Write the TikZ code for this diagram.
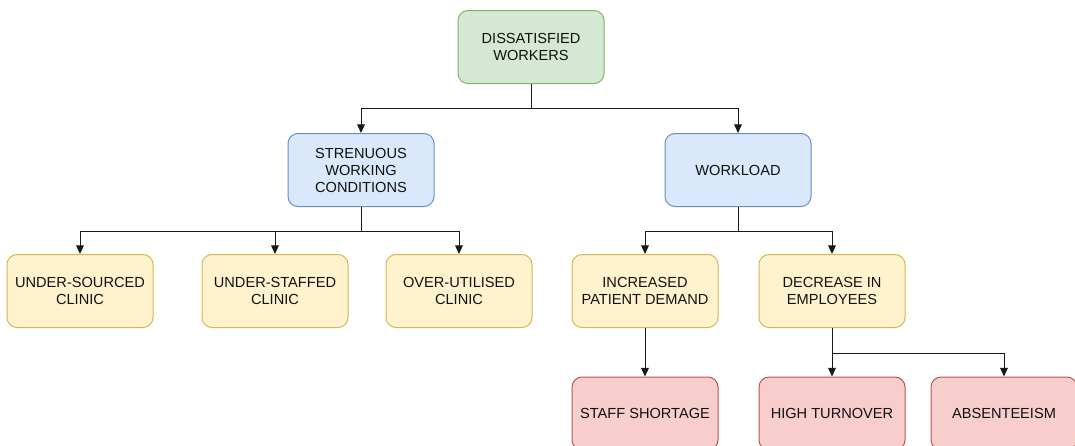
\documentclass[tikz,border=0pt]{standalone}
\usepackage{fontspec}
\setmainfont{Liberation Sans}
\usetikzlibrary{arrows.meta}
\definecolor{gfill}{HTML}{D5E8D4}\definecolor{gline}{HTML}{82B366}
\definecolor{bfill}{HTML}{DAE8FC}\definecolor{bline}{HTML}{6C8EBF}
\definecolor{yfill}{HTML}{FFF2CC}\definecolor{yline}{HTML}{D6B656}
\definecolor{rfill}{HTML}{F8CECC}\definecolor{rline}{HTML}{B85450}
\definecolor{txt}{HTML}{111111}
\tikzset{
  box/.style={rounded corners=7.5pt, minimum width=109.5pt, minimum height=54.75pt,
    align=center, inner sep=0pt, line width=0.75pt, text=txt,
    font=\fontsize{10.95pt}{12.75pt}\selectfont},
  gbox/.style={box, draw=gline, fill=gfill},
  bbox/.style={box, draw=bline, fill=bfill},
  ybox/.style={box, draw=yline, fill=yfill},
  rbox/.style={box, draw=rline, fill=rfill},
  conn/.style={line width=0.75pt, draw=black!90, -{Triangle[length=6.5pt,width=5.8pt]}},
  plain/.style={line width=0.75pt, draw=black!90},
}
\begin{document}
\begin{tikzpicture}[x=0.75pt,y=-0.75pt]
\useasboundingbox (0,0) rectangle (1075,446);
\node[gbox] (top) at (531,47) {DISSATISFIED\\WORKERS};
\node[bbox] (str) at (361,170) {STRENUOUS\\WORKING\\CONDITIONS};
\node[bbox] (wl) at (738,170) {WORKLOAD};
\node[ybox] (us) at (80,291) {UNDER-SOURCED\\CLINIC};
\node[ybox] (ust) at (275,291) {UNDER-STAFFED\\CLINIC};
\node[ybox] (ou) at (459,291) {OVER-UTILISED\\CLINIC};
\node[ybox] (ipd) at (645,291) {INCREASED\\PATIENT DEMAND};
\node[ybox] (de) at (832,291) {DECREASE IN\\EMPLOYEES};
\node[rbox] (ss) at (645,413.5) {STAFF SHORTAGE};
\node[rbox] (ht) at (832,413.5) {HIGH TURNOVER};
\node[rbox] (ab) at (1004,413.5) {ABSENTEEISM};
\coordinate (j1) at (531,108);
\coordinate (j2) at (361,231);
\coordinate (j3) at (738,231);
\coordinate (j4) at (832,353);
\draw[plain] (top.south) -- (j1);
\draw[conn] (j1) -| (str.north);
\draw[conn] (j1) -| (wl.north);
\draw[plain] (str.south) -- (j2);
\draw[conn] (j2) -| (us.north);
\draw[conn] (j2) -| (ust.north);
\draw[conn] (j2) -| (ou.north);
\draw[plain] (wl.south) -- (j3);
\draw[conn] (j3) -| (ipd.north);
\draw[conn] (j3) -| (de.north);
\draw[conn] (ipd.south) -- (ss.north);
\draw[plain] (de.south) -- (j4);
\draw[conn] (j4) -- (ht.north);
\draw[conn] (j4) -| (ab.north);
\end{tikzpicture}
\end{document}
